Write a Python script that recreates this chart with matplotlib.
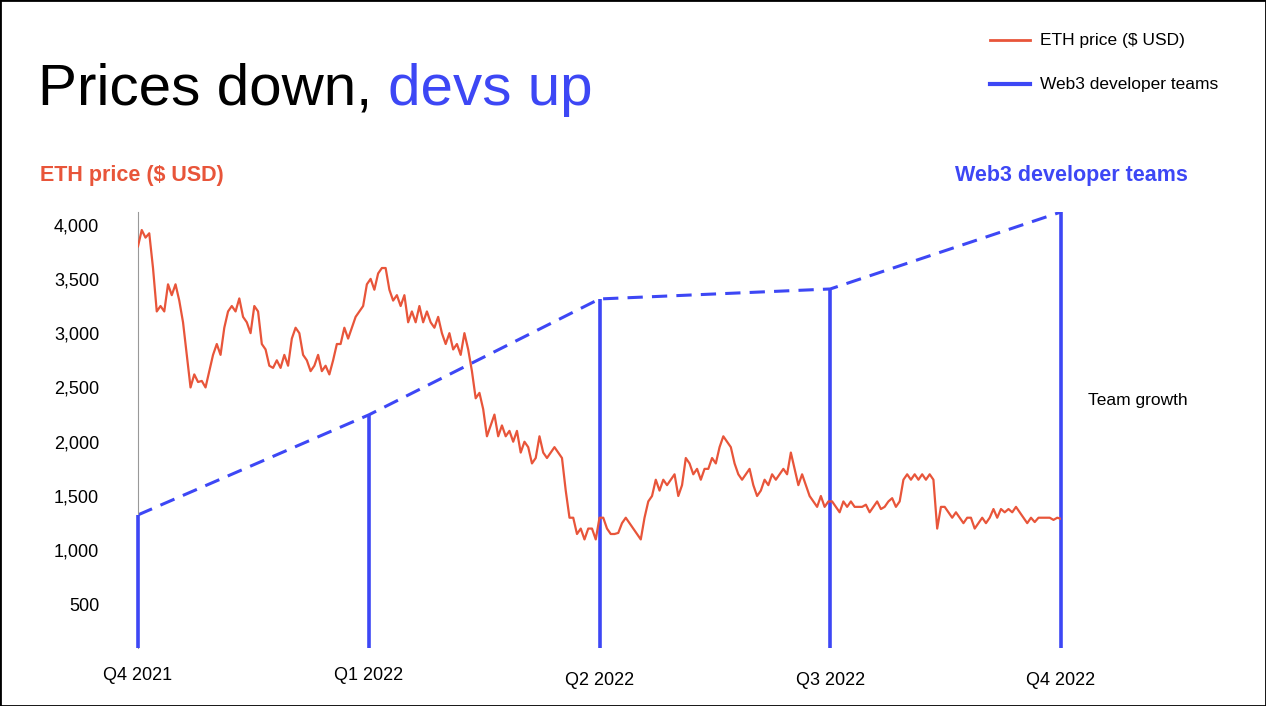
import numpy as np
import matplotlib
matplotlib.use("Agg")
import matplotlib.pyplot as plt
from matplotlib.patches import Rectangle

plt.rcParams["font.family"] = "Liberation Sans"

quarters = ["Q4 2021", "Q1 2022", "Q2 2022", "Q3 2022", "Q4 2022"]
dev_teams = [1326, 2247, 3315, 3407, 4116]  # in price-axis units (visual scale)
yticks = [500, 1000, 1500, 2000, 2500, 3000, 3500, 4000]
eth_prices = [3800,3950,3880,3920,3600,3200,3250,3200,3450,3350,3450,3300,3100,2800,2500,2620,2550,2560,2500,2650,
2800,2900,2800,3050,3200,3250,3200,3320,3150,3100,3000,3250,3200,2900,2850,2700,2680,2750,2680,2800,
2700,2950,3050,3000,2800,2750,2650,2700,2800,2650,2700,2620,2750,2900,2900,3050,2950,3050,3150,3200,
3250,3450,3500,3400,3550,3600,3600,3400,3300,3350,3250,3350,3100,3200,3100,3250,3100,3200,3100,3050,
3150,3000,2900,3000,2850,2900,2800,3000,2850,2650,2400,2450,2300,2050,2150,2250,2050,2150,2050,2100,
2000,2100,1900,2000,1950,1800,1850,2050,1900,1850,1900,1950,1900,1850,1550,1300,1300,1150,1200,1100,
1200,1200,1100,1300,1300,1200,1150,1150,1160,1250,1300,1250,1200,1150,1100,1300,1450,1500,1650,1550,
1650,1600,1650,1700,1500,1600,1850,1800,1700,1750,1650,1750,1750,1850,1800,1950,2050,2000,1950,1800,
1700,1650,1700,1750,1600,1500,1550,1650,1600,1700,1650,1700,1750,1700,1900,1750,1600,1700,1600,1500,
1450,1400,1500,1400,1450,1450,1400,1350,1450,1400,1450,1400,1400,1400,1420,1350,1400,1450,1380,1400,
1450,1480,1400,1450,1650,1700,1650,1700,1650,1700,1650,1700,1650,1200,1400,1400,1350,1300,1350,1300,
1250,1300,1300,1200,1250,1300,1250,1300,1380,1300,1380,1350,1380,1350,1400,1350,1300,1250,1300,1260,
1300,1300,1300,1300,1280,1300,1290]

ORANGE = "#E8553A"
BLUE = "#3D47F5"

fig = plt.figure(figsize=(12.66, 7.06), dpi=100)
fig.patches.append(Rectangle((0, 0), 1, 1, transform=fig.transFigure, fill=False, edgecolor="black", lw=2))
ax = fig.add_axes([138/1266, 1-648/706, (1061-138)/1266, (648-212)/706])
ymin, ymax = 100, 4116
ax.set_ylim(ymin, ymax)
ax.set_xlim(0, 4)

qx = np.arange(len(quarters))
ax.plot(qx, dev_teams, color=BLUE, lw=2.2, ls=(0, (5, 3)), zorder=2)
ax.vlines(qx, ymin, dev_teams, color=BLUE, lw=2.6, zorder=3, clip_on=False)

ex = np.linspace(0, 4, len(eth_prices))
ax.plot(ex, eth_prices, color=ORANGE, lw=1.6, zorder=4)

for s in ["top", "right", "bottom"]:
    ax.spines[s].set_visible(False)
ax.spines["left"].set_color("#999999")
ax.spines["left"].set_linewidth(0.8)
ax.set_yticks(yticks)
ax.set_yticklabels([f"{v:,}" for v in yticks], fontsize=13)
ax.tick_params(axis="y", length=0, pad=28)
ax.set_xticks([])
offs = [0, 0, 1, 1, 1]
for i, q in enumerate(quarters):
    ax.annotate(q, (qx[i], ymin), xytext=(0, -14 - 3*offs[i]), textcoords="offset points",
                ha="center", va="top", fontsize=13, annotation_clip=False)

fig.text(38/1266, 1-105/706, "Prices down, ", fontsize=42, color="black", va="baseline")
t = fig.text(38/1266, 1-105/706, "Prices down, ", fontsize=42, color="none", va="baseline")
fig.canvas.draw()
bb = t.get_window_extent()
fig.text(bb.x1/1266, 1-105/706, "devs up", fontsize=42, color=BLUE, va="baseline")

fig.text(40/1266, 1-175/706, "ETH price ($ USD)", fontsize=15.5, color=ORANGE, weight="bold", va="center")
fig.text(1188/1266, 1-175/706, "Web3 developer teams", fontsize=15.5, color=BLUE, weight="bold", va="center", ha="right")
fig.text(1088/1266, 1-401/706, "Team growth", fontsize=12.5, va="center")

fig.lines.append(plt.Line2D([990/1266, 1030/1266], [1-40/706]*2, color=ORANGE, lw=2, transform=fig.transFigure))
fig.lines.append(plt.Line2D([990/1266, 1030/1266], [1-84/706]*2, color=BLUE, lw=3, transform=fig.transFigure))
fig.text(1040/1266, 1-40/706, "ETH price ($ USD)", fontsize=12.5, va="center")
fig.text(1040/1266, 1-84/706, "Web3 developer teams", fontsize=12.5, va="center")

fig.savefig("out.png", dpi=100)
